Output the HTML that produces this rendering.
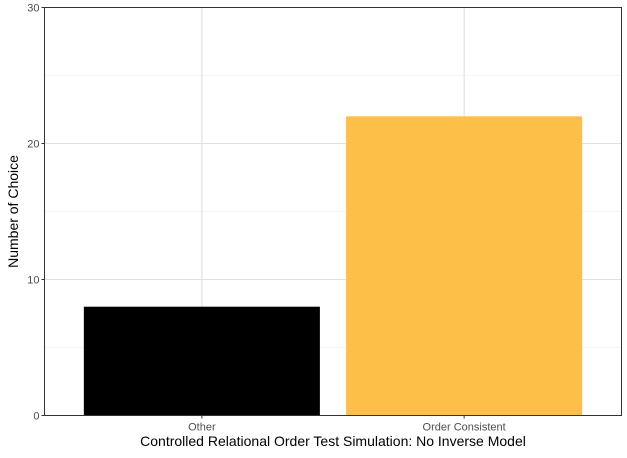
<!DOCTYPE html>
<html><head><meta charset="utf-8"><style>
body{margin:0;background:#fff}
svg{display:block;font-family:"Liberation Sans",Arial,sans-serif}
</style></head><body>
<svg id="chart" width="627" height="458"></svg>
<script>
const categories = ["Other", "Order Consistent"];
const values = [8, 22];
const colors = ["#000000", "#FDBF47"];
const yTicks = [0, 10, 20, 30];
const yMinor = [5, 15, 25];

const L = 44.5, R = 621.5, T = 7.5, B = 415.5;
const yMax = 30;
const y = v => B - (v / yMax) * (B - T);
const unit = (R - L) / (categories.length - 1 + 1.2);
const xc = i => L + unit * (i + 0.6);
const NS = "http://www.w3.org/2000/svg";
const svg = document.getElementById("chart");
function mk(tag, attrs, parent) {
  const e = document.createElementNS(NS, tag);
  for (const k in attrs) e.setAttribute(k, attrs[k]);
  (parent || svg).appendChild(e);
  return e;
}
yMinor.forEach(v => {
  const g = mk("line", {x1: L, x2: R, y1: y(v), y2: y(v), stroke: "#ebebeb", "stroke-width": 0.6});
  
  
});
yTicks.forEach(v => {
  const g = mk("line", {x1: L, x2: R, y1: y(v), y2: y(v), stroke: "#e0e0e0", "stroke-width": 1.1});
  
  
});
categories.forEach((c, i) => {
  const g = mk("line", {x1: xc(i), x2: xc(i), y1: T, y2: B, stroke: "#e0e0e0", "stroke-width": 1.1});
  
  
});
categories.forEach((c, i) => {
  const w = unit * 0.9;
  const r = mk("rect", {x: xc(i) - w / 2, y: y(values[i]), width: w, height: B - y(values[i]), fill: colors[i]});
  
  
});
const pb = mk("rect", {x: L, y: T, width: R - L, height: B - T, fill: "none", stroke: "#333", "stroke-width": 1});


yTicks.forEach(v => {
  const t = mk("line", {x1: L - 3, x2: L, y1: y(v), y2: y(v), stroke: "#333"});
  
  
  const l = mk("text", {x: L - 5, y: y(v) + 4, "text-anchor": "end", "font-size": 11, fill: "#4d4d4d"});
  l.textContent = v;
  
  
});
categories.forEach((c, i) => {
  const t = mk("line", {x1: xc(i), x2: xc(i), y1: B, y2: B + 3, stroke: "#333"});
  
  
  const l = mk("text", {x: xc(i), y: B + 15, "text-anchor": "middle", "font-size": 11, fill: "#4d4d4d"});
  l.textContent = c;
  
  
});
const xt = mk("text", {x: (L + R) / 2, y: 446, "text-anchor": "middle", "font-size": 14, fill: "#000"});
xt.textContent = "Controlled Relational Order Test Simulation: No Inverse Model";


const yt = mk("text", {x: 0, y: 0, "text-anchor": "middle", "font-size": 14, fill: "#000", transform: "translate(18," + ((T + B) / 2) + ") rotate(-90)"});
yt.textContent = "Number of Choice";


</script>
</body></html>
